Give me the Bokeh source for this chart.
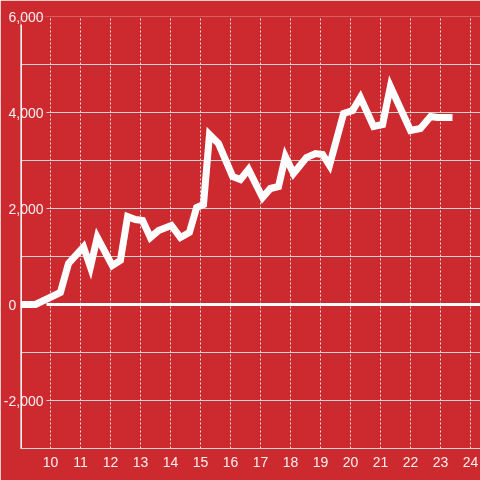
from bokeh.plotting import figure
from bokeh.models import Range1d, FixedTicker, NumeralTickFormatter, LinearAxis, Grid
from bokeh.embed import file_html
from bokeh.resources import INLINE

# ---- data ----
x_vals = [9.0, 9.5, 10.33, 10.6, 11.1, 11.33, 11.56, 12.06, 12.33, 12.57, 12.83,
          13.07, 13.33, 13.6, 14.03, 14.33, 14.63, 14.87, 15.1, 15.3, 15.6,
          16.07, 16.33, 16.6, 17.07, 17.33, 17.6, 17.83, 18.1, 18.53, 18.83,
          19.07, 19.3, 19.77, 20.07, 20.33, 20.77, 21.07, 21.33, 22.0, 22.33,
          22.67, 22.9, 23.4]
y_vals = [0, 0, 250, 854, 1200, 780, 1400, 812, 917, 1833, 1771,
          1750, 1396, 1542, 1646, 1396, 1500, 2021, 2083, 3542, 3354,
          2667, 2604, 2812, 2229, 2417, 2458, 3083, 2729, 3062, 3146,
          3125, 2896, 3979, 4042, 4312, 3708, 3750, 4542, 3625, 3667,
          3917, 3896, 3896]

x_ticks = [10, 11, 12, 13, 14, 15, 16, 17, 18, 19, 20, 21, 22, 23, 24]
y_label_ticks = [-2000, 0, 2000, 4000, 6000]
y_grid_ticks = [-3000, -2000, -1000, 0, 1000, 2000, 3000, 4000, 5000, 6000]

X_START, X_END = 9.0, 24.3333
Y_MIN, Y_MAX = -3000, 6000
Y_AXIS_TOP = 5833

BG = "#cc2a2f"
TXT = "#f6f0f0"
FONT = "Liberation Sans"
NBSP = "\u00a0"

p = figure(width=480, height=480, output_backend="svg", toolbar_location=None,
           x_range=Range1d(X_START, X_END), y_range=Range1d(Y_MIN, Y_MAX),
           x_axis_type=None, y_axis_type=None,
           min_border_left=20, min_border_right=0, min_border_top=16,
           min_border_bottom=32, background_fill_color=BG,
           border_fill_color=BG, outline_line_color=None)
p.styles = {"position": "fixed", "left": "0px", "top": "0px"}

# x axis
xaxis = LinearAxis(ticker=FixedTicker(ticks=x_ticks))
xaxis.major_tick_out = 0
xaxis.major_tick_in = 0
xaxis.minor_tick_out = 0
xaxis.minor_tick_in = 0
xaxis.axis_line_color = "#d6d6d6"
xaxis.axis_line_width = 1
xaxis.major_label_standoff = 8
xaxis.major_label_text_font = FONT
xaxis.major_label_text_font_size = "14px"
xaxis.major_label_text_color = TXT
p.add_layout(xaxis, "below")

# y axis (labels only; line drawn separately)
yaxis = LinearAxis(ticker=FixedTicker(ticks=y_label_ticks),
                   formatter=NumeralTickFormatter(format="0,0"))
yaxis.major_tick_out = 0
yaxis.major_tick_in = 0
yaxis.minor_tick_out = 0
yaxis.minor_tick_in = 0
yaxis.axis_line_color = None
yaxis.major_label_standoff = -23
yaxis.major_label_overrides = {0: "0" + NBSP * 7}
yaxis.major_label_text_font = FONT
yaxis.major_label_text_font_size = "14px"
yaxis.major_label_text_color = TXT
p.add_layout(yaxis, "left")

# grids
xgrid = Grid(dimension=0, ticker=FixedTicker(ticks=x_ticks),
             grid_line_color="#e2e2e2", grid_line_dash="2 2", grid_line_width=1)
ygrid = Grid(dimension=1, ticker=FixedTicker(ticks=y_grid_ticks),
             grid_line_color="#d4d4d4", grid_line_width=1)
p.add_layout(xgrid)
p.add_layout(ygrid)

# zero line
p.hspan(y=[0], line_color="white", line_width=3)

# masks behind labelled tick values
p.rect(x=[X_START] * len(y_label_ticks), y=y_label_ticks, width=52, height=4,
       width_units="screen", height_units="screen",
       fill_color=BG, line_color=None)

# y axis line
p.segment(x0=[X_START], y0=[Y_MIN], x1=[X_START], y1=[Y_AXIS_TOP],
          line_color="#f4f4f4", line_width=3)

# data line
p.line(x_vals, y_vals, line_color="white", line_width=7, line_join="miter",
       line_cap="butt")

open("out.html", "w").write(file_html(p, INLINE))
